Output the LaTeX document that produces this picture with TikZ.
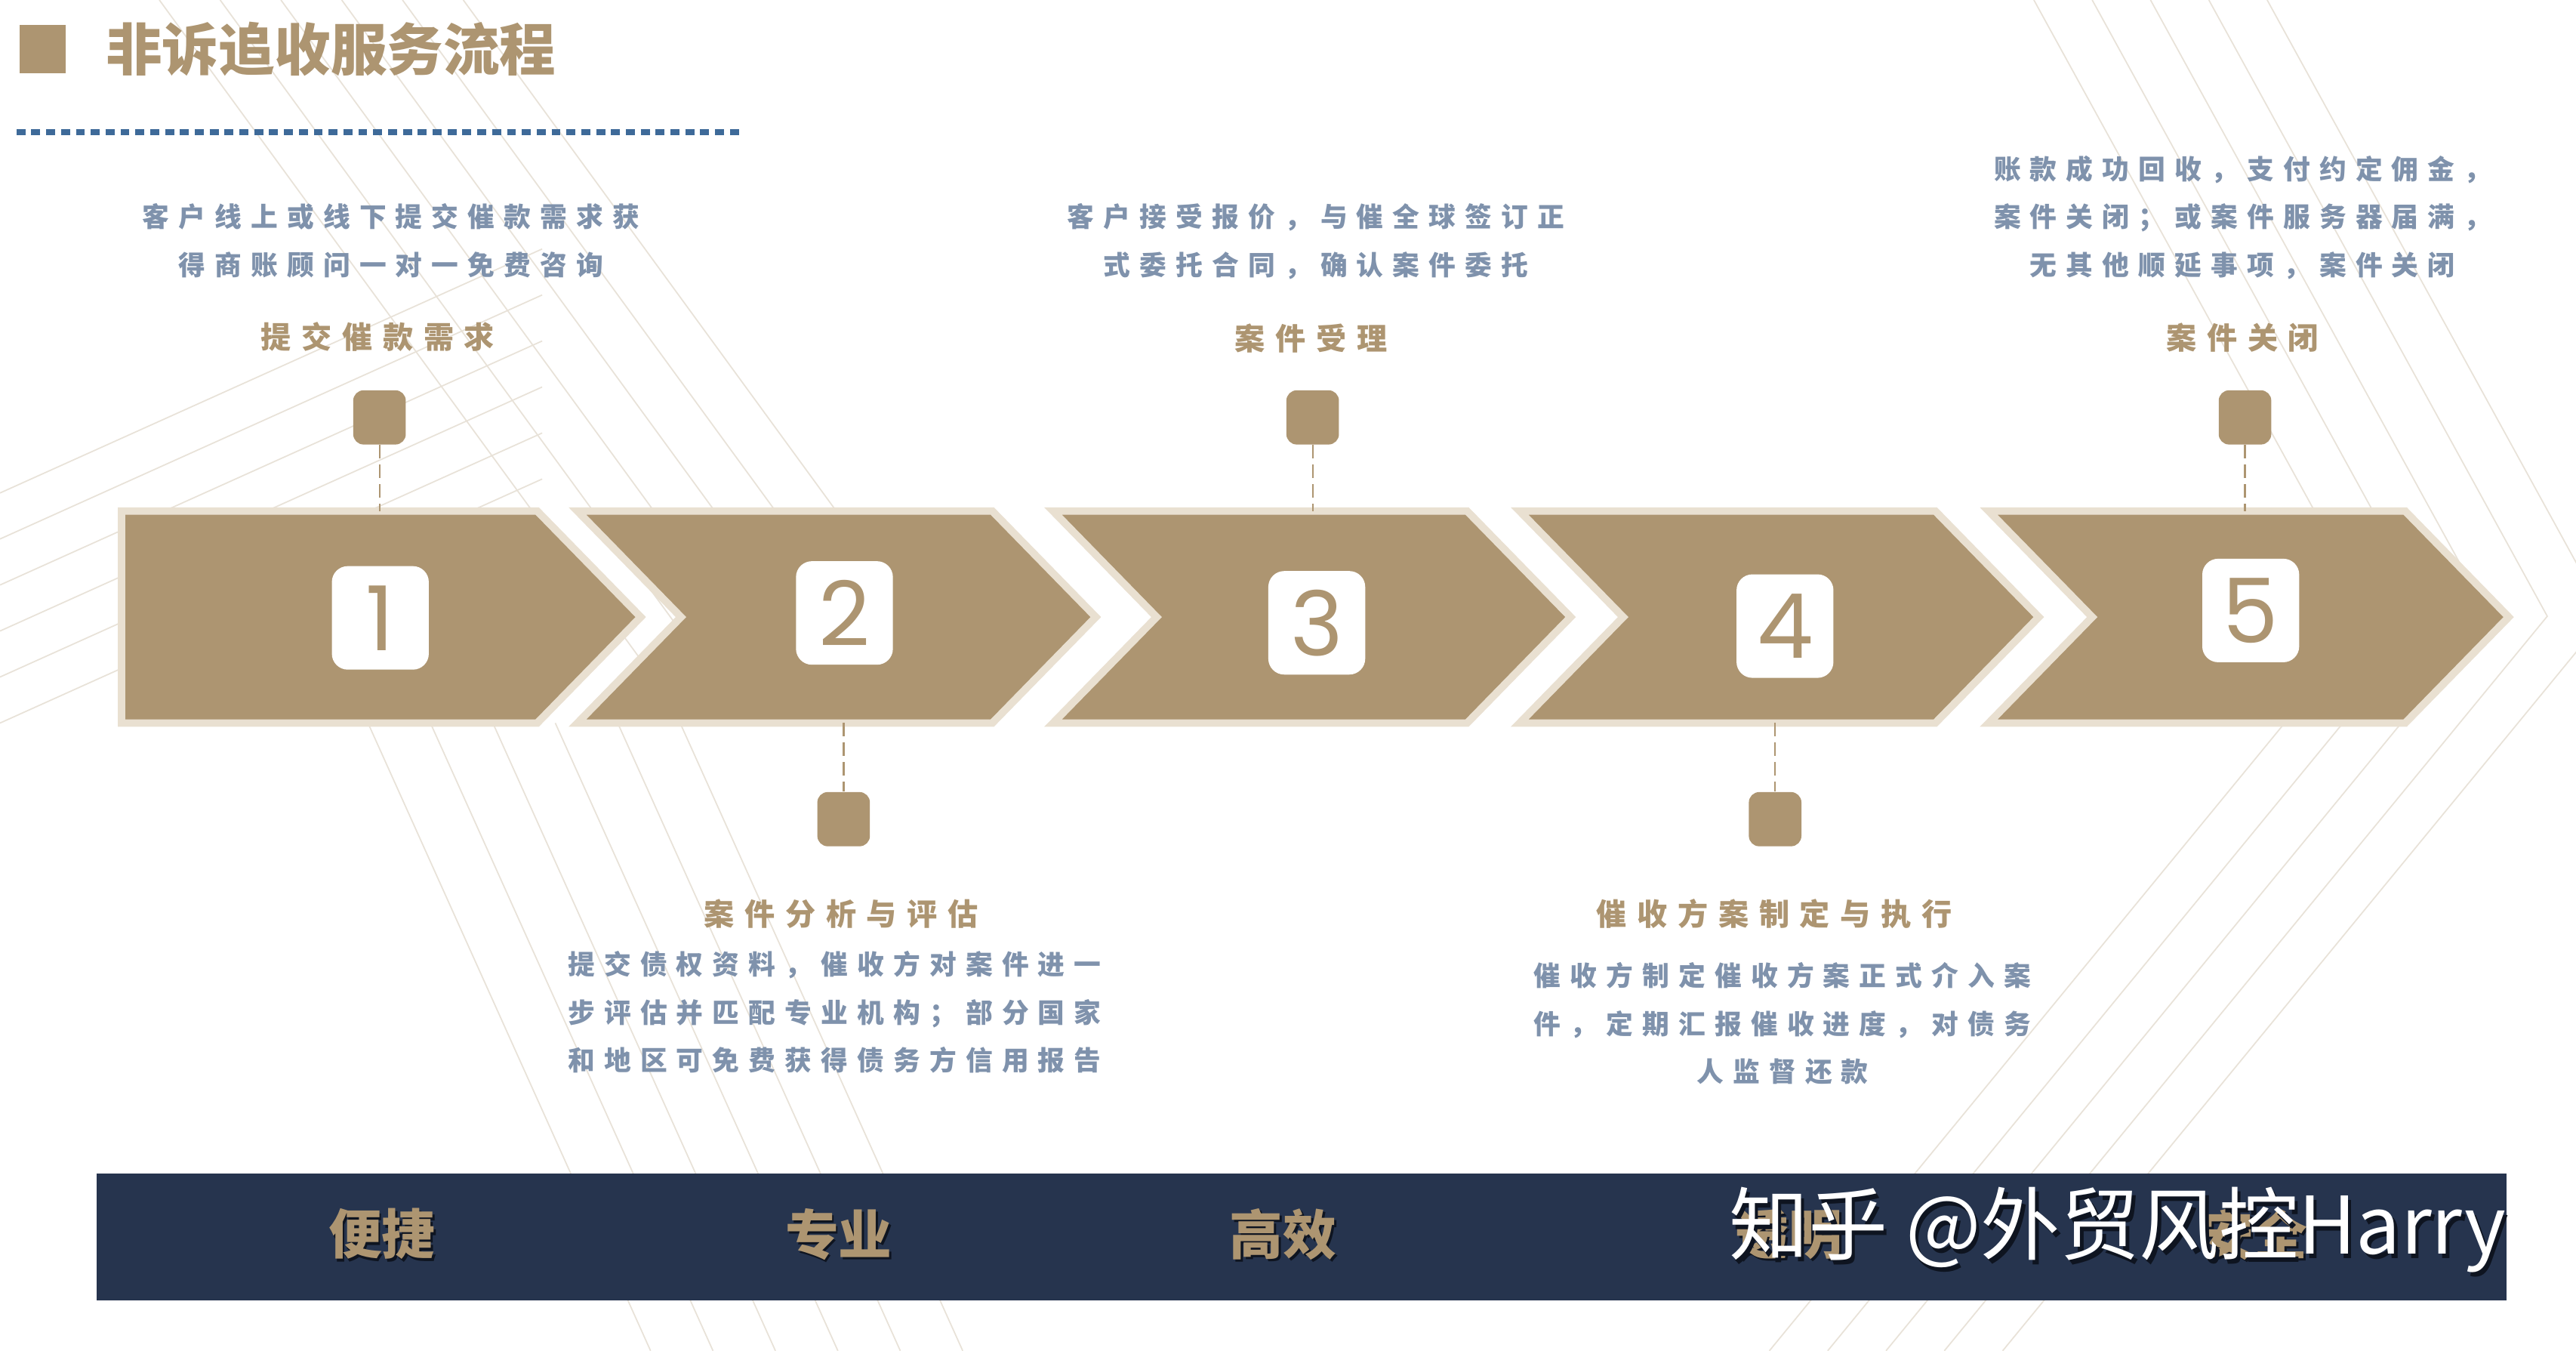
\documentclass[tikz,border=0pt]{standalone}
\usepackage{fontspec}
\newfontfamily\cjk{Noto Sans CJK SC}
\newfontfamily\cjkls[LetterSpace=34]{Noto Sans CJK SC}
\newfontfamily\digitfont{Poppins}
\definecolor{gold}{RGB}{173,149,113}
\definecolor{textblue}{RGB}{127,146,172}
\definecolor{dotblue}{RGB}{62,106,153}
\definecolor{navy}{RGB}{38,52,78}
\definecolor{bgline}{RGB}{232,226,216}
\definecolor{glow}{RGB}{233,224,209}
\definecolor{shadowc}{RGB}{14,20,32}
\begin{document}
\begin{tikzpicture}[x=0.02cm,y=-0.02cm,
  body/.style={font=\cjkls\bfseries\fontsize{9.35pt}{16.6pt}\selectfont, text=textblue, align=center, inner sep=0pt},
  steplabel/.style={font=\cjkls\bfseries\fontsize{10.5pt}{12pt}\selectfont, text=gold, inner sep=0pt},
  sqbox/.style={fill=gold, rounded corners=3.6pt, minimum width=0.64cm, minimum height=0.66cm, inner sep=0pt},
  badge/.style={fill=white, rounded corners=5.5pt, minimum width=1.18cm, minimum height=1.26cm, inner sep=0pt, font=\digitfont\fontsize{31pt}{31pt}\selectfont, text=gold},
  conn/.style={draw=gold, line width=0.6pt, dash pattern=on 4.5pt off 2.3pt},
  chev/.style={fill=gold, draw=glow, line width=2.6pt, line join=miter},
  bgl/.style={draw=bgline, line width=0.45pt},
  barword/.style={font=\cjk\bfseries\fontsize{18.5pt}{20pt}\selectfont, inner sep=0pt},
  wm/.style={font=\cjk\fontsize{27.5pt}{30pt}\selectfont, inner sep=0pt}
]
\useasboundingbox (0,0) rectangle (1568,822);
\fill[white] (0,0) rectangle (1568,822);

% background texture lines
\foreach \i in {0,...,5} {
  \draw[bgl] (97+37*\i,0) -- (97+37*\i+0.73*440,440);
  \draw[bgl] (0,300+28*\i) -- (330,151.5+28*\i);
  \draw[bgl] (224+38*\i,440) -- (396+38*\i,822);
}
\foreach \i in {0,...,4} {
  \draw[bgl] (1238+35.5*\i,0) -- (1444+35.5*\i,375) -- (1077+35.5*\i,822);
}

% title
\node[fill=gold, minimum width=0.56cm, minimum height=0.59cm, inner sep=0pt] (tsq) at (26,29.8) {};
\node[anchor=west, inner sep=0pt, text=gold, font=\cjk\bfseries\fontsize{19.5pt}{20pt}\selectfont] (title) at (64,30) {非诉追收服务流程};
\draw[dotblue, line width=2.2pt, dash pattern=on 3.1pt off 2.05pt] (10,80.5) -- (451,80.5);

% chevrons
\path[chev] (74,311) -- (327,311) -- (390,375.5) -- (327,440) -- (74,440) -- cycle;
\foreach \L/\R in {351.5/604, 641/893, 925/1178, 1210.5/1464} {
  \path[chev] (\L,311) -- (\R,311) -- (\R+63,375.5) -- (\R,440) -- (\L,440) -- (\L+63,375.5) -- cycle;
}

% badges
\node[badge] (b1) at (231.5,376) {1};
\node[badge] (b2) at (514,373) {2};
\node[badge] (b3) at (801.5,379) {3};
\node[badge] (b4) at (1086.5,381) {4};
\node[badge] (b5) at (1370,371.5) {5};

% connector end points on the chevrons
\coordinate (t1) at (231,311);
\coordinate (t3) at (799,311);
\coordinate (t5) at (1366.5,311);
\coordinate (u2) at (513.5,440);
\coordinate (u4) at (1080.5,440);

% small squares
\node[sqbox] (s1) at (231,254) {};
\node[sqbox] (s3) at (799,254) {};
\node[sqbox] (s5) at (1366.5,254) {};
\node[sqbox] (s2) at (513.5,498.5) {};
\node[sqbox] (s4) at (1080.5,498.5) {};

\draw[conn] (s1.south) -- (t1);
\draw[conn] (s3.south) -- (t3);
\draw[conn] (s5.south) -- (t5);
\draw[conn] (u2) -- (s2.north);
\draw[conn] (u4) -- (s4.north);

% texts above
\node[body] (d1) at (238,146.5) {客户线上或线下提交催款需求获\\得商账顾问一对一免费咨询};
\node[steplabel] (l1) at (230,205) {提交催款需求};
\node[body] (d3) at (801,147) {客户接受报价，与催全球签订正\\式委托合同，确认案件委托};
\node[steplabel] (l3) at (798,206) {案件受理};
\node[body] (d5) at (1365,132.4) {账款成功回收，支付约定佣金，\\案件关闭；或案件服务器届满，\\无其他顺延事项，案件关闭};
\node[steplabel] (l5) at (1365,205.4) {案件关闭};

% texts below
\node[steplabel] (l2) at (512,556) {案件分析与评估};
\node[body] (d2) at (508,616) {提交债权资料，催收方对案件进一\\步评估并匹配专业机构；部分国家\\和地区可免费获得债务方信用报告};
\node[steplabel] (l4) at (1080,556) {催收方案制定与执行};
\node[body] (d4) at (1085,623) {催收方制定催收方案正式介入案\\件，定期汇报催收进度，对债务\\人监督还款};

% bottom bar
\node[fill=navy, minimum width=29.35cm, minimum height=1.55cm, inner sep=0pt] (bar) at (792.25,752.75) {};
\foreach \x/\w/\k in {232.5/便捷/1, 510.5/专业/2, 781/高效/3, 1089/透明/4, 1372/安全/5} {
  \node[barword, text=shadowc] (ws\k) at (\x+1.2,752.5) {\w};
  \node[barword, text=gold] (w\k) at (\x,751) {\w};
}
\node[wm, text=shadowc] (wms) at (1291,751) {知乎 @外贸风控Harry};
\node[wm, text=white] (wmk) at (1289,748.5) {知乎 @外贸风控Harry};
\end{tikzpicture}
\end{document}
